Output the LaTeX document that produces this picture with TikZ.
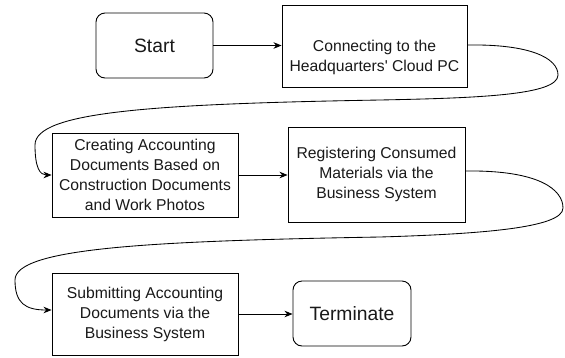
\documentclass[tikz,border=0pt]{standalone}
\usepackage{fontspec}
\setmainfont{Liberation Sans}[Ligatures=TeXOff]
\usetikzlibrary{arrows.meta}
\begin{document}
\begin{tikzpicture}[x=1pt,y=-1pt,
  txt/.style={align=center, inner sep=0pt, font=\fontsize{15.7}{20}\selectfont, text=black!90},
  box/.style={draw, line width=0.9pt, txt},
  term/.style={box, rounded corners=9pt, font=\fontsize{19.3}{23}\selectfont},
  flow/.style={-{Stealth[length=8pt,width=6.5pt,inset=2.5pt]}, line width=0.85pt}]
\useasboundingbox (0,0) rectangle (565,357);

\node[term, minimum width=117pt, minimum height=65pt] (start) at (154.5,45.5) {Start};
\node[box, minimum width=185pt, minimum height=82pt] (cloud) at (374.5,46) {};
\node[txt] (cloudtxt) at (374.5,57) {Connecting to the\\Headquarters' Cloud PC};
\node[box, minimum width=186pt, minimum height=84pt] (create) at (145,175)
  {Creating Accounting\\Documents Based on\\Construction Documents\\and Work Photos};
\node[box, minimum width=177pt, minimum height=95pt] (register) at (376.5,174.5)
  {Registering Consumed\\Materials via the\\Business System};
\node[box, minimum width=186pt, minimum height=82pt] (submit) at (145,314)
  {Submitting Accounting\\Documents via the\\Business System};
\node[term, minimum width=118pt, minimum height=65pt] (terminate) at (352,313.5) {Terminate};

\draw[flow] (start.east) -- (start.east -| cloud.west);
\draw[flow] ([yshift=1pt]cloud.east) .. controls (530,44) and (558,58) .. (558,75)
  .. controls (558,95) and (480,98) .. (380,100)
  .. controls (150,104) and (35,112) .. (35,145)
  .. controls (35,168) and (40,175) .. (create.west);
\draw[flow] (create.east) -- (create.east -| register.west);
\draw[flow] ([yshift=3.5pt]register.east) .. controls (540,170) and (563,190) .. (563,208)
  .. controls (563,228) and (480,234) .. (380,237)
  .. controls (150,241) and (15,248) .. (15,280)
  .. controls (15,303) and (25,310) .. ([yshift=4pt]submit.west);
\draw[flow] (submit.east) -- (submit.east -| terminate.west);
\end{tikzpicture}
\end{document}
